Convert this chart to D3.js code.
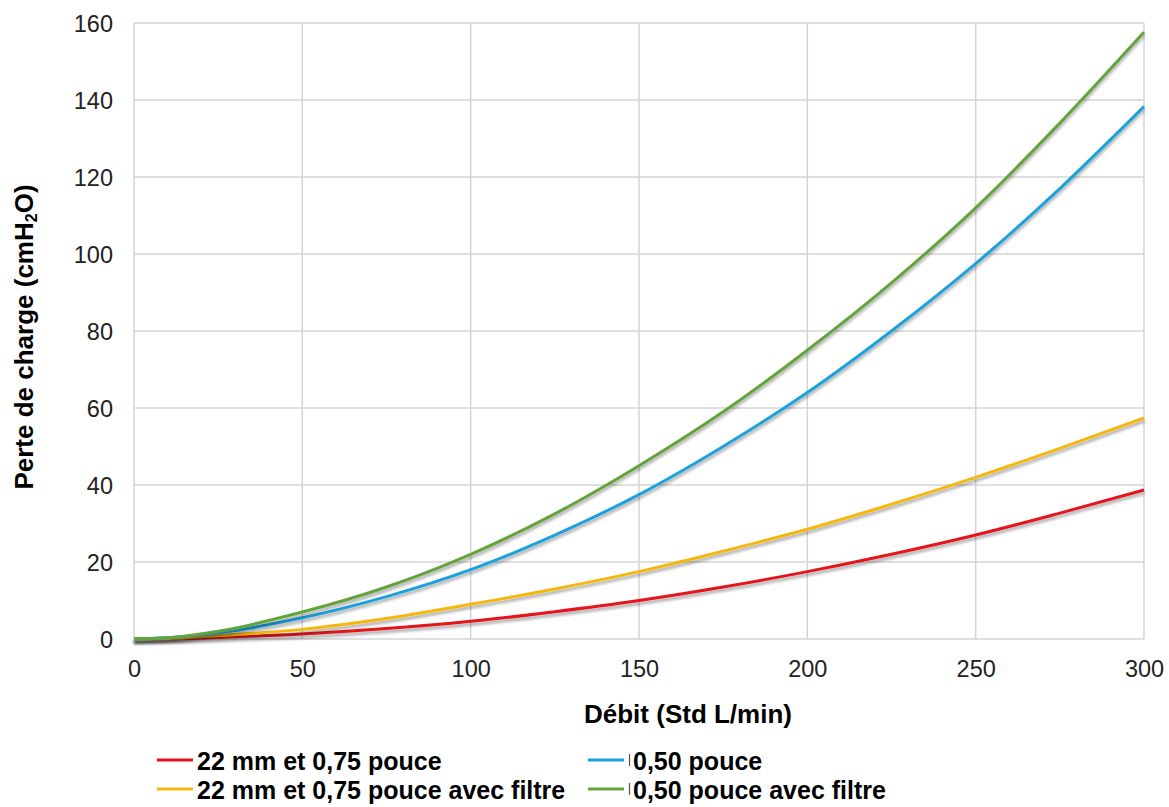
<!DOCTYPE html>
<html><head><meta charset="utf-8">
<script src="https://cdn.jsdelivr.net/npm/d3@7"></script>
<style>body{margin:0;background:#fff}svg{font-family:"Liberation Sans",Arial,sans-serif}</style>
</head><body><svg id="c" width="1169" height="807"></svg>
<script>
const xValues = [0, 10, 25, 50, 75, 100, 125, 150, 175, 200, 225, 250, 275, 300];
const red22mm = [0, 0.05, 0.4, 1.3, 2.7, 4.6, 7.1, 10, 13.5, 17.5, 22, 27, 32.7, 38.7];
const yellow22mmFiltre = [0, 0.1, 0.9, 2.5, 5.3, 9, 13, 17.5, 22.8, 28.5, 35, 42, 49.5, 57.4];
const blue050 = [0, 0.3, 1.6, 5.5, 11, 18, 27, 37.5, 50, 64, 80, 97.5, 117, 138.3];
const green050Filtre = [0, 0.3, 2, 7, 13.5, 22, 32.5, 45, 59, 75, 92.5, 112, 134, 157.6];
const seriesNames = ["22 mm et 0,75 pouce", "22 mm et 0,75 pouce avec filtre", "0,50 pouce", "0,50 pouce avec filtre"];
const seriesColors = ["#e3141b", "#f5b70f", "#1ba1dd", "#64a33c"];
const xTicks = [0, 50, 100, 150, 200, 250, 300];
const yTicks = [0, 20, 40, 60, 80, 100, 120, 140, 160];

const svg = d3.select("#c");
const m = {l: 134, r: 1144, t: 23, b: 639};
const x = d3.scaleLinear().domain([0, 300]).range([m.l, m.r]);
const y = d3.scaleLinear().domain([0, 160]).range([m.b, m.t]);

const defs = svg.append("defs");
const f = defs.append("filter").attr("id","sh").attr("x","-5%").attr("y","-5%").attr("width","110%").attr("height","110%");
f.append("feGaussianBlur").attr("in","SourceAlpha").attr("stdDeviation",1.8).attr("result","b");
f.append("feOffset").attr("in","b").attr("dx",0).attr("dy",2.5).attr("result","o");
f.append("feComponentTransfer").attr("in","o").attr("result","o2").append("feFuncA").attr("type","linear").attr("slope",0.35);
const fm = f.append("feMerge"); fm.append("feMergeNode").attr("in","o2"); fm.append("feMergeNode").attr("in","SourceGraphic");

// grid
svg.append("g").selectAll("line").data(yTicks).join("line")
  .attr("x1", m.l).attr("x2", m.r).attr("y1", d=>y(d)).attr("y2", d=>y(d))
  .attr("stroke", "#d4d4d4").attr("stroke-width", 1.5);
svg.append("g").selectAll("line").data(xTicks).join("line")
  .attr("y1", m.t).attr("y2", m.b).attr("x1", d=>x(d)).attr("x2", d=>x(d))
  .attr("stroke", "#d4d4d4").attr("stroke-width", 1.5);

// axes labels via d3 axes
const ya = svg.append("g").attr("transform", `translate(${m.l},0)`)
  .call(d3.axisLeft(y).tickValues(yTicks).tickSize(0).tickPadding(21));
const xa = svg.append("g").attr("transform", `translate(0,${m.b})`)
  .call(d3.axisBottom(x).tickValues(xTicks).tickSize(0).tickPadding(21));
[ya, xa].forEach(a => {
  a.select(".domain").remove();
  a.selectAll("text").attr("font-size", 23.5).attr("fill", "#222").attr("font-family", "Liberation Sans, Arial, sans-serif");
});
ya.selectAll("text").attr("dy", "0.35em");
xa.selectAll("text").attr("dy", "0.35em").attr("y", 30);

// lines
const data = [red22mm, yellow22mmFiltre, blue050, green050Filtre];
const line = d3.line().x((d,i)=>x(xValues[i])).y(d=>y(d)).curve(d3.curveMonotoneX);
const order = [0, 1, 2, 3];
svg.append("g").selectAll("path").data(order).join("path")
  .attr("d", i=>line(data[i])).attr("fill","none")
  .attr("stroke", i=>seriesColors[i]).attr("stroke-width", 3)
  .attr("filter","url(#sh)");

// titles
svg.append("text").attr("x", 688).attr("y", 723).attr("text-anchor","middle")
  .attr("font-size", 26).attr("font-weight","bold").attr("fill","#000").text("Débit (Std L/min)");
const yt = svg.append("text").attr("transform", `translate(33,${(m.t+m.b)/2 + 6}) rotate(-90)`)
  .attr("text-anchor","middle").attr("font-size", 26).attr("font-weight","bold").attr("fill","#000");
yt.append("tspan").text("Perte de charge (cmH");
yt.append("tspan").attr("font-size", 16).attr("dy", 4).text("2");
yt.append("tspan").attr("dy", -4).text("O)");

// legend
const legPos = [[157, 770], [157, 799], [588, 770], [588, 799]];
const lg = svg.append("g").selectAll("g").data(order).join("g")
  .attr("transform", i=>`translate(${legPos[i][0]},${legPos[i][1]})`);
lg.append("line").attr("x1",0).attr("x2",36).attr("y1",-10).attr("y2",-10)
  .attr("stroke", i=>seriesColors[i]).attr("stroke-width", 3);
lg.filter(i=>i>=2).append("line").attr("x1",41.5).attr("x2",41.5).attr("y1",-16).attr("y2",-4)
  .attr("stroke","#555").attr("stroke-width",1.2);
lg.append("text").attr("x", i=> i>=2 ? 45 : 40).attr("y", 0).attr("font-size", 25).attr("font-weight","bold")
  .attr("fill","#000").text(i=>seriesNames[i]);
</script></body></html>
